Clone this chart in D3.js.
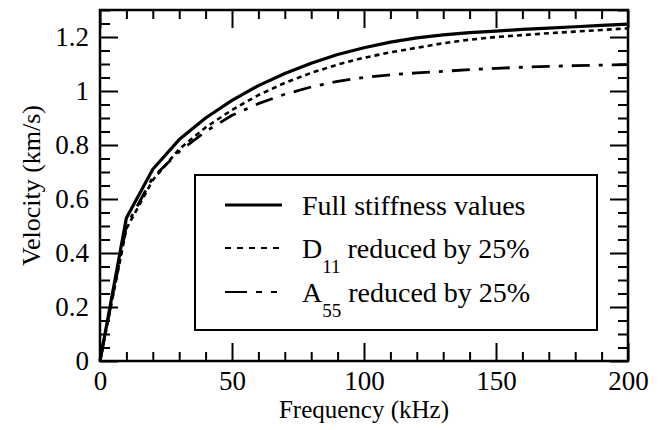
<!DOCTYPE html>
<html>
<head>
<meta charset="utf-8">
<script src="https://cdn.jsdelivr.net/npm/d3@7"></script>
<style>
  body { margin: 0; background: #fff; }
  svg { display: block; }
</style>
</head>
<body>
<svg id="chart" width="662" height="430"></svg>
<script>
const freq = [0, 10, 20, 30, 40, 50, 60, 70, 80, 90, 100, 110, 120, 130, 140, 150, 160, 170, 180, 190, 200];
// velocity (km/s) for each case
const fullStiff = [0, 0.53, 0.71, 0.82, 0.90, 0.965, 1.02, 1.065, 1.103, 1.135, 1.16, 1.181, 1.197, 1.208, 1.216, 1.222, 1.228, 1.233, 1.238, 1.243, 1.248];
const d11Reduced = [0, 0.49, 0.67, 0.785, 0.865, 0.93, 0.985, 1.03, 1.067, 1.098, 1.123, 1.143, 1.16, 1.177, 1.19, 1.20, 1.207, 1.214, 1.22, 1.226, 1.232];
const a55Reduced = [0, 0.50, 0.68, 0.775, 0.85, 0.91, 0.953, 0.988, 1.015, 1.036, 1.05, 1.06, 1.067, 1.073, 1.079, 1.084, 1.088, 1.091, 1.094, 1.096, 1.098];

const xMajor = [0, 50, 100, 150, 200];
const yMajor = [0, 0.2, 0.4, 0.6, 0.8, 1, 1.2];

const series = [
  { name: "Full stiffness values", sub: null, values: fullStiff, dash: null, keyDash: null, width: 3.2 },
  { name: "D", sub: "11", rest: " reduced by 25%", values: d11Reduced, dash: "5,4", keyDash: "6,6", width: 2.6 },
  { name: "A", sub: "55", rest: " reduced by 25%", values: a55Reduced, dash: "18,9,4,9", keyDash: "22,9,6,9,6,30", width: 2.8 }
];

const FONT = "Liberation Serif";

const svg = d3.select("#chart");
const m = { left: 100, top: 10, right: 34, bottom: 69 };
const W = 662 - m.left - m.right;
const H = 430 - m.top - m.bottom;

const x = d3.scaleLinear().domain([0, 200]).range([0, W]);
const y = d3.scaleLinear().domain([0, 1.3]).range([H, 0]);

const g = svg.append("g").attr("transform", `translate(${m.left},${m.top})`);

// ---- ticks (inward on all four sides) ----
const xMinor = d3.range(0, 201, 10).filter(v => v % 50 !== 0);
const yMinor = d3.range(0, 27).map(i => +(i * 0.05).toFixed(2)).filter(v => Math.round(v * 100) % 20 !== 0);

function tickStyle(sel) {
  sel.select(".domain").remove();
  sel.selectAll("line").attr("stroke", "#000").attr("stroke-width", 2);
  sel.selectAll("text").attr("fill", "#000")
    .style("font-family", FONT).style("font-size", "27px");
}

// bottom
g.append("g").attr("transform", `translate(0,${H})`)
  .call(d3.axisBottom(x).tickValues(xMajor).tickSize(-18).tickPadding(10).tickFormat(d3.format("d")))
  .call(tickStyle);
g.append("g").attr("transform", `translate(0,${H})`)
  .call(d3.axisBottom(x).tickValues(xMinor).tickSize(-9).tickFormat(""))
  .call(tickStyle);
// top
g.append("g")
  .call(d3.axisTop(x).tickValues(xMajor).tickSize(-18).tickFormat(""))
  .call(tickStyle);
g.append("g")
  .call(d3.axisTop(x).tickValues(xMinor).tickSize(-9).tickFormat(""))
  .call(tickStyle);
// left
g.append("g")
  .call(d3.axisLeft(y).tickValues(yMajor).tickSize(-18).tickPadding(11).tickFormat(d => String(+d.toFixed(1))))
  .call(tickStyle);
g.append("g")
  .call(d3.axisLeft(y).tickValues(yMinor).tickSize(-10).tickFormat(""))
  .call(tickStyle);
// right
g.append("g").attr("transform", `translate(${W},0)`)
  .call(d3.axisRight(y).tickValues(yMajor).tickSize(-18).tickFormat(""))
  .call(tickStyle);
g.append("g").attr("transform", `translate(${W},0)`)
  .call(d3.axisRight(y).tickValues(yMinor).tickSize(-10).tickFormat(""))
  .call(tickStyle);

// frame
g.append("rect")
  .attr("width", W).attr("height", H)
  .attr("fill", "none").attr("stroke", "#000").attr("stroke-width", 2.5);

// ---- curves ----
const line = d3.line()
  .x((d, i) => x(freq[i]))
  .y(d => y(d));

series.forEach(s => {
  g.append("path")
    .datum(s.values)
    .attr("d", line)
    .attr("fill", "none")
    .attr("stroke", "#000")
    .attr("stroke-width", s.width)
    .attr("stroke-dasharray", s.dash)
    .attr("stroke-linejoin", "round");
});

// ---- legend ----
const lg = svg.append("g").attr("transform", "translate(195,175)");
lg.append("rect")
  .attr("width", 402).attr("height", 155)
  .attr("fill", "#fff").attr("stroke", "#000").attr("stroke-width", 2);

const rowY = [30, 73, 117];
series.forEach((s, i) => {
  const yy = rowY[i];
  lg.append("line")
    .attr("x1", 30).attr("x2", 87)
    .attr("y1", yy).attr("y2", yy)
    .attr("stroke", "#000")
    .attr("stroke-width", i === 0 ? 3 : 2)
    .attr("stroke-dasharray", s.keyDash);
  const t = lg.append("text")
    .attr("x", 107).attr("y", yy + 10)
    .style("font-family", FONT).style("font-size", "28px");
  t.append("tspan").text(s.name);
  if (s.sub) {
    t.append("tspan").style("font-size", "19px").attr("dy", 15).text(s.sub);
    t.append("tspan").attr("dy", -15).text(s.rest);
  }
});

// ---- axis titles ----
svg.append("text")
  .attr("x", m.left + W / 2).attr("y", 418)
  .attr("text-anchor", "middle")
  .style("font-family", FONT).style("font-size", "25px")
  .text("Frequency (kHz)");

svg.append("text")
  .attr("transform", `translate(40,${m.top + H / 2}) rotate(-90)`)
  .attr("text-anchor", "middle")
  .style("font-family", FONT).style("font-size", "26px")
  .text("Velocity (km/s)");
</script>
</body>
</html>
